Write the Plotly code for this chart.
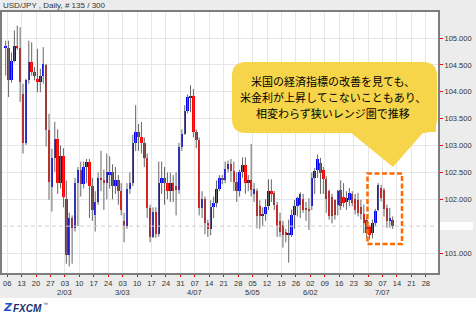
import plotly.graph_objects as go

# ---------------- data (USD/JPY daily, Jan 3 - Jul 10, 2014) ----------------
opens = [
    104.82,
    104.81, 104.21, 104.58, 104.86, 104.81,
    103.96, 103.04, 104.21, 104.56, 104.36,
    104.24, 104.18, 104.29, 104.50, 103.28,
    102.23, 102.76, 103.13, 102.30, 102.80,
    102.00, 100.97, 101.65, 101.46, 102.30,
    102.55, 102.28, 102.60, 102.70, 102.25,
    101.70, 101.95, 102.40, 102.35, 102.30,
    102.45, 102.50, 102.25, 102.35, 102.15,
    101.60, 101.50, 102.20, 102.30, 103.05,
    103.25, 103.15, 103.04, 102.76, 101.83,
    101.30, 101.77, 101.35, 102.30, 102.40,
    102.30, 102.15, 102.30, 102.25, 102.17,
    102.98, 103.22, 103.65, 103.90, 103.93,
    103.25, 103.10, 101.83, 102.00, 101.55,
    101.45, 101.85, 101.93, 102.20, 102.39,
    102.36, 102.57, 102.65, 102.52, 102.33,
    102.15, 102.50, 102.63, 102.30, 102.35,
    102.10, 102.15, 101.88, 101.68, 101.72,
    101.87, 102.15, 102.12, 101.90, 101.60,
    101.52, 101.40, 101.33, 101.34, 101.71,
    101.87, 101.90, 102.00, 101.84, 101.80,
    101.87, 102.40, 102.55, 102.68, 102.55,
    102.37, 102.15, 102.05, 101.98, 101.90,
    102.18, 102.05, 101.95, 101.99, 102.09,
    102.00, 101.99, 101.86, 101.72, 101.62,
    101.50, 101.37, 101.56, 101.80, 102.21,
    102.18, 101.84, 101.59, 101.62,
]
highs = [
    104.95,
    104.95, 104.73, 105.14, 105.23, 105.20,
    104.15, 104.24, 104.95, 104.92, 104.46,
    104.80, 104.43, 104.83, 104.52, 103.59,
    102.94, 103.44, 103.30, 103.00, 102.95,
    102.35, 101.75, 101.70, 102.40, 102.60,
    102.70, 102.70, 102.75, 102.75, 102.40,
    102.15, 102.50, 102.90, 102.55, 102.85,
    102.80, 102.65, 102.60, 102.45, 102.30,
    101.75, 102.30, 102.50, 103.20, 103.75,
    103.40, 103.44, 103.15, 102.85, 101.90,
    101.85, 101.85, 102.70, 102.70, 102.60,
    102.50, 102.50, 102.45, 102.50, 103.05,
    103.30, 103.75, 103.95, 104.12, 104.05,
    103.30, 103.15, 102.15, 102.05, 101.62,
    101.98, 102.05, 102.35, 102.45, 102.45,
    102.70, 102.72, 102.75, 102.70, 102.50,
    102.55, 102.78, 102.78, 102.45, 103.03,
    102.30, 102.20, 101.98, 101.85, 102.00,
    102.37, 102.37, 102.15, 101.95, 101.75,
    101.60, 101.45, 101.62, 101.81, 101.99,
    102.05, 102.13, 102.10, 101.95, 102.02,
    102.50, 102.58, 102.83, 102.77, 102.60,
    102.43, 102.18, 102.10, 102.00, 102.18,
    102.35, 102.30, 102.15, 102.21, 102.15,
    102.10, 102.12, 101.99, 101.90, 101.68,
    101.52, 101.62, 101.82, 102.30, 102.27,
    102.21, 101.90, 101.84, 101.68,
]
lows = [
    104.30,
    103.90, 104.17, 104.55, 104.78, 103.81,
    102.85, 103.01, 104.15, 104.30, 104.21,
    103.99, 103.99, 104.15, 102.98, 101.99,
    101.77, 102.51, 102.10, 102.20, 101.85,
    100.80, 100.75, 100.80, 101.40, 101.50,
    102.05, 102.20, 102.30, 101.65, 101.60,
    101.40, 101.90, 102.15, 101.80, 102.00,
    102.20, 102.00, 102.10, 101.90, 101.70,
    101.20, 101.45, 102.10, 102.25, 102.90,
    102.90, 102.85, 102.60, 101.65, 101.20,
    101.28, 101.28, 101.30, 102.10, 101.90,
    102.00, 101.95, 101.95, 101.70, 102.10,
    102.90, 103.20, 103.60, 103.62, 103.15,
    102.95, 101.70, 101.65, 101.35, 101.30,
    101.33, 101.65, 101.85, 102.15, 102.28,
    102.30, 102.50, 102.32, 102.15, 101.95,
    102.05, 102.40, 102.10, 102.15, 102.05,
    101.95, 101.46, 101.45, 101.50, 101.60,
    101.80, 101.95, 101.80, 101.30, 101.30,
    101.10, 101.20, 100.82, 101.30, 101.45,
    101.68, 101.65, 101.75, 101.60, 101.43,
    101.80, 102.10, 102.40, 102.10, 102.10,
    101.75, 101.62, 101.55, 101.62, 101.70,
    101.80, 101.85, 101.80, 101.87, 101.87,
    101.72, 101.68, 101.62, 101.37, 101.28,
    101.25, 101.27, 101.50, 101.78, 101.96,
    101.68, 101.47, 101.47, 101.45,
]
closes = [
    104.86,
    104.21, 104.58, 104.85, 104.82, 104.18,
    103.04, 104.21, 104.56, 104.36, 104.30,
    104.19, 104.30, 104.52, 103.28, 102.33,
    102.76, 103.13, 102.30, 102.80, 102.05,
    100.97, 101.66, 101.46, 102.30, 102.55,
    102.28, 102.60, 102.70, 102.25, 101.80,
    101.95, 102.40, 102.35, 102.30, 102.50,
    102.50, 102.25, 102.35, 102.15, 101.80,
    101.50, 102.20, 102.30, 103.05, 103.25,
    103.15, 103.05, 102.76, 101.83, 101.30,
    101.77, 101.35, 102.30, 102.40, 102.30,
    102.15, 102.30, 102.15, 102.17, 102.98,
    103.22, 103.65, 103.90, 103.93, 103.25,
    103.10, 101.83, 102.00, 101.55, 101.45,
    101.85, 101.93, 102.20, 102.39, 102.36,
    102.57, 102.65, 102.52, 102.33, 102.15,
    102.50, 102.63, 102.30, 102.35, 102.18,
    102.20, 101.68, 101.68, 101.72, 101.85,
    102.15, 102.10, 101.90, 101.50, 101.40,
    101.34, 101.34, 101.38, 101.71, 101.87,
    102.02, 102.10, 101.80, 101.80, 101.79,
    102.40, 102.52, 102.74, 102.49, 102.37,
    102.00, 101.68, 101.68, 101.70, 102.15,
    101.87, 101.93, 102.02, 102.12, 101.93,
    101.80, 101.75, 101.72, 101.56, 101.37,
    101.34, 101.56, 101.78, 102.27, 102.02,
    101.81, 101.59, 101.65, 101.50,
]

week_day_labels = ["06", "13", "20", "27", "03", "10", "17", "24", "03", "10",
                   "17", "24", "31", "07", "14", "21", "28", "05", "12", "19",
                   "26", "02", "09", "16", "23", "30", "07", "14", "21", "28"]
month_labels = {4: "2/03", 8: "3/03", 13: "4/07", 17: "5/05", 21: "6/02", 26: "7/07"}
price_ticks = [101.0, 102.0, 102.5, 103.0, 103.5, 104.0, 104.5, 105.0]
current_price = closes[-1]

title_text = "USD/JPY , Daily, # 135 / 300"
callout_lines = ["米国の経済指標の改善を見ても、",
                 "米金利が上昇してこないこともあり、",
                 "相変わらず狭いレンジ圏で推移"]

# ---------------- figure ----------------
W, H = 476, 317
def px(x):
    return x / W
def py(y):
    return 1 - y / H

n = len(opens)
idx = list(range(n))

# wicks
wx, wy = [], []
for i in idx:
    wx += [i, i, None]
    wy += [lows[i], highs[i], None]

bases = [min(o, c) for o, c in zip(opens, closes)]
heights = [max(abs(c - o), 0.015) for o, c in zip(opens, closes)]
colors = ["#0000ff" if c >= o else "#ff0000" for o, c in zip(opens, closes)]

fig = go.Figure()
fig.add_trace(go.Scatter(x=wx, y=wy, mode="lines",
                         line=dict(color="#666666", width=1),
                         hoverinfo="skip", showlegend=False))
fig.add_trace(go.Bar(x=idx, y=heights, base=bases, width=0.85,
                     marker=dict(color=colors, line=dict(width=0)),
                     showlegend=False))

# x ticks (Mondays)
tickvals = [1 + 5 * w - 0.5 for w in range(len(week_day_labels))]

shapes = []
# white strip at the bottom
shapes.append(dict(type="rect", xref="paper", yref="paper", x0=0, x1=1,
                   y0=0, y1=py(298), fillcolor="white", line=dict(width=0),
                   layer="below"))
# current price dashed line
shapes.append(dict(type="line", xref="paper", yref="y", x0=px(3), x1=px(437),
                   y0=current_price, y1=current_price,
                   line=dict(color="#cfcfcf", width=1, dash="4px,3px")))
# price label box
shapes.append(dict(type="rect", xref="paper", yref="paper", x0=px(440), x1=px(473),
                   y0=py(230), y1=py(222), fillcolor="white", line=dict(width=0)))

# callout box (rounded rectangle)
bx0, bx1, by0, by1, r = 232, 437, 62, 133, 14
def P(x, y):
    return f"{px(x):.5f},{py(y):.5f}"
path = (f"M {P(bx0 + r, by0)} L {P(bx1 - r, by0)} Q {P(bx1, by0)} {P(bx1, by0 + r)} "
        f"L {P(bx1, by1 - r)} Q {P(bx1, by1)} {P(bx1 - r, by1)} "
        f"L {P(bx0 + r, by1)} Q {P(bx0, by1)} {P(bx0, by1 - r)} "
        f"L {P(bx0, by0 + r)} Q {P(bx0, by0)} {P(bx0 + r, by0)} Z")
shapes.append(dict(type="path", xref="paper", yref="paper", path=path,
                   fillcolor="#F7D54B", line=dict(width=0)))
tail = f"M {P(350, 132)} L {P(393, 167)} L {P(436, 118)} L {P(436, 132)} Z"
shapes.append(dict(type="path", xref="paper", yref="paper", path=tail,
                   fillcolor="#F7D54B", line=dict(width=0)))

# orange dashed highlight box
shapes.append(dict(type="rect", xref="paper", yref="paper",
                   x0=px(367.5), x1=px(402), y0=py(244), y1=py(173.5),
                   fillcolor="rgba(0,0,0,0)",
                   line=dict(color="#FF6A00", width=2.5, dash="5px,2.5px")))

annotations = []
annotations.append(dict(text=title_text, xref="paper", yref="paper",
                        x=px(1), y=py(6), xanchor="left", yanchor="middle",
                        showarrow=False,
                        font=dict(family="Liberation Sans, Arial", size=8, color="#333333")))
for line, yc in zip(callout_lines, [81, 97, 112.5]):
    annotations.append(dict(text=line, xref="paper", yref="paper",
                            x=px(333), y=py(yc), xanchor="center", yanchor="middle",
                            showarrow=False,
                            font=dict(family="Noto Sans CJK JP", size=11, color="#000000")))
# month labels under the first Monday of each month
for w, lab in month_labels.items():
    annotations.append(dict(text=lab, xref="x", yref="paper",
                            x=tickvals[w], y=py(292.5), xanchor="center", yanchor="middle",
                            showarrow=False,
                            font=dict(family="Liberation Sans, Arial", size=7.5, color="#333333")))
# FXCM logo
annotations.append(dict(text="<b><i>Z</i></b>", xref="paper", yref="paper",
                        x=px(1), y=py(307.5), xanchor="left", yanchor="middle",
                        showarrow=False,
                        font=dict(family="DejaVu Sans", size=11, color="#1f4fc8")))
annotations.append(dict(text="<b><i>FXCM</i></b>", xref="paper", yref="paper",
                        x=px(11), y=py(308), xanchor="left", yanchor="middle",
                        showarrow=False,
                        font=dict(family="Liberation Sans, Arial", size=10, color="#1b2f6e")))
annotations.append(dict(text="™", xref="paper", yref="paper",
                        x=px(41), y=py(303.5), xanchor="left", yanchor="middle",
                        showarrow=False,
                        font=dict(family="Liberation Sans, Arial", size=5, color="#1b2f6e")))

fig.update_layout(
    width=W, height=H,
    margin=dict(l=0, r=0, t=0, b=0, pad=0),
    paper_bgcolor="#ececec",
    plot_bgcolor="#ffffff",
    showlegend=False,
    bargap=0,
    shapes=shapes,
    annotations=annotations,
    xaxis=dict(
        domain=[px(2), px(438)],
        range=[-1.28, 149.7],
        tickmode="array", tickvals=tickvals, ticktext=week_day_labels,
        ticks="outside", ticklen=2, tickcolor="#ff0000", tickwidth=1,
        tickfont=dict(family="Liberation Sans, Arial", size=7.5, color="#333333"),
        showgrid=True, gridcolor="#e6e6e6", gridwidth=1,
        showline=True, linecolor="#7d7d7d", linewidth=2, mirror=True,
        zeroline=False, fixedrange=True,
    ),
    yaxis=dict(
        domain=[py(273), py(12)],
        range=[100.628, 105.484],
        side="right",
        tickmode="array", tickvals=price_ticks,
        ticktext=[f"{v:.3f}" for v in price_ticks],
        ticks="outside", ticklen=3, tickcolor="#ff0000", tickwidth=1,
        tickfont=dict(family="Liberation Sans, Arial", size=7.5, color="#333333"),
        showgrid=True, gridcolor="#e6e6e6", gridwidth=1,
        showline=True, linecolor="#7d7d7d", linewidth=2, mirror=True,
        zeroline=False, fixedrange=True,
    ),
)

fig.write_html("out.html", config={"displayModeBar": False})
